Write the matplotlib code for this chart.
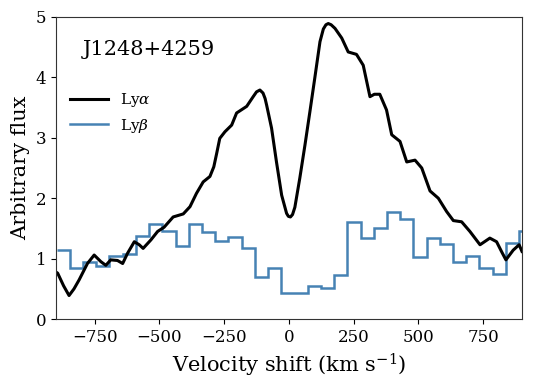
import numpy as np
import matplotlib
matplotlib.use("Agg")
import matplotlib.pyplot as plt

plt.rcParams["font.family"] = "DejaVu Serif"
plt.rcParams["mathtext.fontset"] = "dejavuserif"

# Ly-alpha profile (velocity km/s, flux)
lya_v = [-900, -893, -870, -849, -830, -810, -778, -752, -726, -707, -688, -662, -642,
         -623, -597, -578, -563, -533, -507, -482, -447, -408, -382, -357, -331,
         -305, -290, -279, -267, -247, -221, -202, -163, -138, -125, -112, -100,
         -92, -86, -67, -48, -28, -9, -2, 6, 14, 23, 42, 62, 81, 100, 120, 133,
         143, 152, 163, 178, 204, 229, 261, 287, 313, 330, 351, 377, 397, 429,
         455, 487, 513, 545, 577, 609, 635, 667, 699, 738, 776, 802, 822, 838,
         866, 889, 900]
lya_f = [0.78, 0.76, 0.55, 0.39, 0.50, 0.65, 0.92, 1.06, 0.95, 0.89, 0.98, 0.97, 0.92,
         1.09, 1.28, 1.23, 1.17, 1.31, 1.45, 1.52, 1.69, 1.74, 1.86, 2.08, 2.27,
         2.36, 2.52, 2.74, 2.99, 3.10, 3.21, 3.41, 3.52, 3.68, 3.76, 3.79, 3.74,
         3.65, 3.54, 3.16, 2.60, 2.05, 1.75, 1.70, 1.69, 1.73, 1.85, 2.33, 2.88,
         3.43, 3.99, 4.59, 4.80, 4.87, 4.89, 4.87, 4.81, 4.65, 4.42, 4.38, 4.20,
         3.68, 3.72, 3.72, 3.46, 3.05, 2.94, 2.60, 2.63, 2.50, 2.12, 2.00, 1.78,
         1.63, 1.61, 1.45, 1.23, 1.34, 1.28, 1.11, 0.98, 1.14, 1.23, 1.12]

# Ly-beta binned flux
lyb_edges = -846 + 51.03 * np.arange(-1, 36)
lyb_f = [1.14, 0.84, 0.94, 0.88, 1.05, 1.08, 1.37, 1.58, 1.45, 1.21, 1.57, 1.44,
         1.29, 1.36, 1.18, 0.69, 0.84, 0.44, 0.44, 0.55, 0.52, 0.73, 1.61, 1.34,
         1.50, 1.78, 1.66, 1.03, 1.34, 1.24, 0.94, 1.04, 0.84, 0.74, 1.26, 1.46]

fig = plt.figure(figsize=(5.37, 3.84), dpi=100)
ax = fig.add_axes([0.104, 0.169, 0.868, 0.787])

ax.plot(lya_v, lya_f, color="black", lw=2.2, label=r"Ly$\alpha$")
ax.stairs(lyb_f, lyb_edges, color="steelblue", lw=1.8, label=r"Ly$\beta$", baseline=None)

ax.set_xlim(-900, 900)
ax.set_ylim(0, 5)
ax.set_xticks([-750, -500, -250, 0, 250, 500, 750])
ax.set_yticks([0, 1, 2, 3, 4, 5])
ax.tick_params(labelsize=12, top=False, right=False)
for s in ax.spines.values():
    s.set_color("#333333")
ax.set_xlabel(r"Velocity shift (km s$^{-1}$)", fontsize=15)
ax.set_ylabel("Arbitrary flux", fontsize=15)
ax.text(0.058, 0.925, "J1248+4259", transform=ax.transAxes, fontsize=15, va="top")
ax.legend(loc="upper left", bbox_to_anchor=(0.0, 0.8), frameon=False, fontsize=11,
          handlelength=2.5)

fig.savefig("out.png", dpi=100)
